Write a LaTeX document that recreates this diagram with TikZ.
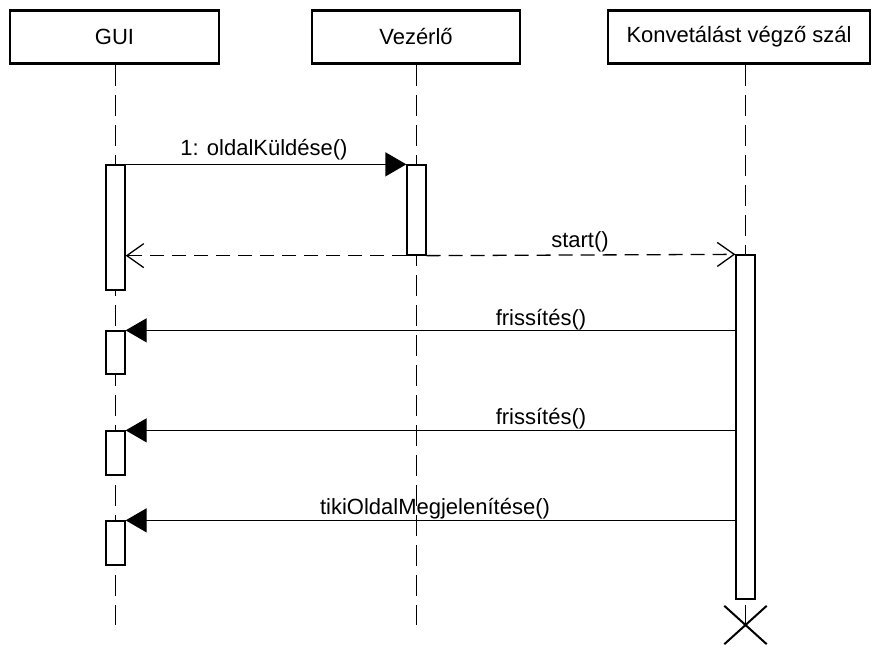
\documentclass[tikz,border=0pt]{standalone}
\usepackage{fontspec}
\setmainfont{Liberation Sans}
\usetikzlibrary{arrows.meta}
\begin{document}
\begin{tikzpicture}[x=1pt,y=-1pt,
  every node/.style={font=\fontsize{22}{25}\selectfont},
  head/.style={draw, line width=2.8pt, minimum height=53pt, inner sep=0pt},
  bar/.style={draw, fill=white, line width=1.3pt, minimum width=19pt, inner sep=0pt},
  lifeline/.style={line width=1.3pt, dash pattern=on 21pt off 9pt},
  msg/.style={line width=1.3pt, -{Triangle[length=21pt,width=24pt]}},
  reply/.style={line width=1.3pt, dash pattern=on 14pt off 8pt, -{Straight Barb[length=17pt,width=24pt,line width=1.3pt]}},
  lbl/.style={inner sep=1pt}]
\useasboundingbox (0,0) rectangle (872,647);

% participants
\node[head, minimum width=209pt] (gui) at (114.5,37) {GUI};
\node[head, minimum width=208pt] (vez) at (416,37) {Vezérlő};
\node[head, minimum width=262pt] (kon) at (739,37) {Konvetálást végző szál};

% lifeline ends
\coordinate (guiend) at (115.5,625);
\coordinate (vezend) at (416.5,625);
\node[inner sep=0pt, minimum width=42pt, minimum height=38pt] (kx) at (745.5,625) {};

\draw[lifeline] (gui.south -| guiend) -- (guiend);
\draw[lifeline] (vez.south -| vezend) -- (vezend);
\draw[lifeline] (kon.south -| kx) -- (kx.center);

% activation bars
\node[bar, minimum height=125pt] (g1) at (115.5,227.5) {};
\node[bar, minimum height=43pt] (g2) at (115.5,352.5) {};
\node[bar, minimum height=44pt] (g3) at (115.5,453) {};
\node[bar, minimum height=44pt] (g4) at (115.5,543) {};
\node[bar, minimum height=90pt] (v1) at (416.5,210) {};
\node[bar, minimum height=344pt] (k1) at (745.5,427) {};

% destruction mark
\draw[line width=2pt] (kx.north west) -- (kx.south east)
                      (kx.north east) -- (kx.south west);

% messages
\draw[msg] (g1.north east) -- (v1.north west);
\node[lbl] (m1) at (264,150) {1: oldalKüldése()};

\draw[reply] (v1.south west) -- (g1.east |- v1.south);
\draw[reply] (v1.south east) -- (k1.north west);
\node[lbl] (m2) at (580,242) {start()};

\draw[msg] (k1.west |- g2.north) -- (g2.north east);
\node[lbl] (m3) at (541,320) {frissítés()};

\draw[msg] (k1.west |- g3.north) -- (g3.north east);
\node[lbl] (m4) at (541,419) {frissítés()};

\draw[msg] (k1.west |- g4.north) -- (g4.north east);
\node[lbl] (m5) at (435,509) {tikiOldalMegjelenítése()};
\end{tikzpicture}
\end{document}
